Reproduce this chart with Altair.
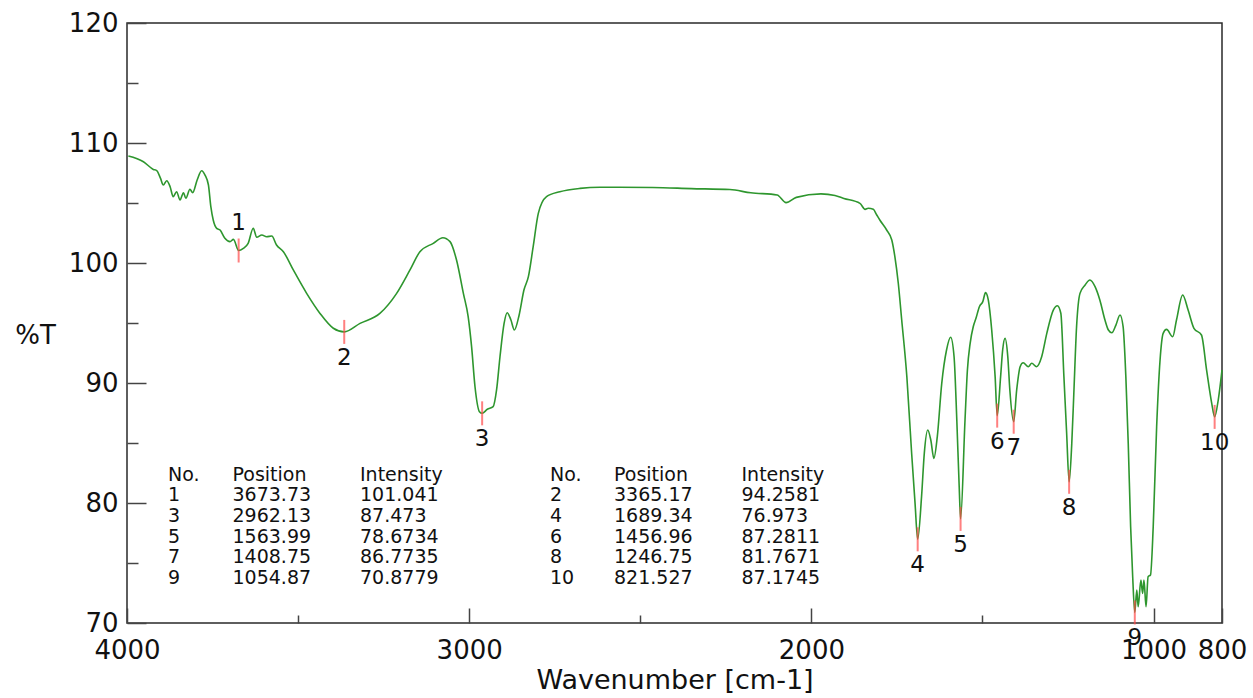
import altair as alt
import pandas as pd

# ---------------- data ----------------
# spectrum trace (wavenumber in cm-1, %T) between the labelled peaks
spec_wn = [
    3996, 3952, 3923, 3913, 3902, 3894, 3884, 3874, 3865, 3855,
    3845, 3835, 3828, 3816, 3808, 3795, 3782, 3772, 3762, 3755,
    3748, 3738, 3728, 3714, 3699, 3689, 3660, 3646, 3631,
    3621, 3606, 3592, 3577, 3563, 3543, 3514, 3475, 3436, 3397,
    3319, 3261, 3212, 3173, 3144, 3105, 3077, 3056, 3037,
    3017, 3003, 2993, 2983, 2970, 2947, 2930, 2920, 2910,
    2898, 2889, 2878, 2868, 2854, 2840, 2827, 2813, 2798, 2774,
    2735, 2676, 2618, 2464, 2351, 2238, 2177, 2100, 2074, 2044,
    1972, 1931, 1905, 1858, 1843, 1834, 1819, 1809, 1800, 1780,
    1765, 1756, 1746, 1736, 1721, 1707, 1697, 1678, 1670,
    1660, 1651, 1642, 1632, 1619, 1605, 1593, 1583, 1575, 1568,
    1551, 1544, 1536, 1527, 1519, 1509, 1499, 1491, 1483,
    1473, 1463, 1447, 1441, 1434, 1426, 1420, 1400,
    1390, 1381, 1366, 1356, 1342, 1327, 1312, 1293, 1281, 1271,
    1262, 1254, 1239, 1233, 1225, 1215, 1200, 1186, 1171,
    1157, 1142, 1132, 1122, 1110, 1098, 1089, 1081, 1074, 1067,
    1061, 1049, 1045, 1037, 1032, 1028, 1022, 1016, 1009,
    1001, 991, 981, 972, 962, 944, 933, 915, 899, 882,
    860, 845, 830, 811, 800,
]
spec_t = [
    108.92, 108.44, 107.8, 107.7, 107.05, 106.5, 106.86, 106.36, 105.53, 105.94,
    105.25, 105.86, 105.39, 106.14, 105.86, 106.92, 107.69, 107.33, 106.5, 104.69,
    103.58, 102.89, 102.75, 102.06, 101.78, 101.97, 101.22, 101.64, 102.89,
    102.14, 102.33, 102.19, 102.25, 101.5, 100.94, 99.42, 97.47, 95.8, 94.56,
    94.97, 95.8, 97.47, 99.42, 100.94, 101.64, 102.11, 101.78, 100.25,
    97.47, 95.53, 93.03, 89.69, 87.61, 87.81, 88.03, 89.42, 92.19,
    94.97, 95.86, 95.25, 94.42, 95.67, 97.75, 98.86, 101.36, 104.14, 105.53,
    105.94, 106.22, 106.31, 106.29, 106.2, 106.12, 105.85, 105.67, 105.03, 105.47,
    105.76, 105.62, 105.38, 104.97, 104.47, 104.56, 104.47, 104.0, 103.58, 102.75,
    101.92, 100.53, 98.31, 95.25, 90.53, 84.14, 79.97, 80.53, 84.14,
    86.08, 85.25, 83.72, 85.53, 89.97, 92.75, 93.81, 92.19, 86.92, 81.36,
    86.92, 91.08, 93.31, 94.69, 95.39, 96.36, 96.78, 97.53, 96.92,
    94.42, 90.53, 90.53, 92.75, 93.72, 92.19, 89.42, 89.42,
    91.36, 91.69, 91.36, 91.64, 91.36, 92.19, 94.14, 96.08, 96.44, 95.81,
    90.53, 85.81, 84.97, 89.14, 94.69, 97.47, 98.17, 98.58, 98.03,
    96.92, 95.25, 94.42, 94.19, 94.83, 95.67, 94.69, 90.53, 84.97, 78.03,
    73.86, 72.75, 71.36, 73.58, 72.47, 73.58, 71.36, 73.86, 74.0,
    78.03, 86.36, 91.92, 94.14, 94.47, 93.86, 95.25, 97.33, 96.08, 94.56,
    94.0, 91.08, 88.31, 88.58, 91.08,
]
assert len(spec_wn) == len(spec_t)

# labelled peaks (from the peak table)
peak_no = [1, 2, 3, 4, 5, 6, 7, 8, 9, 10]
peak_pos = [3673.73, 3365.17, 2962.13, 1689.34, 1563.99, 1456.96, 1408.75, 1246.75, 1054.87, 821.527]
peak_int = [101.041, 94.2581, 87.473, 76.973, 78.6734, 87.2811, 86.7735, 81.7671, 70.8779, 87.1745]

x_label_values = [4000, 3000, 2000, 1000, 800]
x_minor_values = [3500, 2500, 1500]
y_label_values = [70, 80, 90, 100, 110, 120]
y_minor_values = [75, 85, 95, 105, 115]

# ---------------- tables for the library ----------------
spec_df = pd.DataFrame({"wn": spec_wn + peak_pos, "T": spec_t + peak_int}).sort_values("wn", ascending=False)
peaks_df = pd.DataFrame({"no": peak_no, "wn": peak_pos, "T": peak_int})

def fmt(v):
    return "{:.6g}".format(v)

left = [i for i in range(0, 10, 2)]
right = [i for i in range(1, 10, 2)]
table_cols = [
    ["No."] + [str(peak_no[i]) for i in left],
    ["Position"] + [fmt(peak_pos[i]) for i in left],
    ["Intensity"] + [fmt(peak_int[i]) for i in left],
    ["No."] + [str(peak_no[i]) for i in right],
    ["Position"] + [fmt(peak_pos[i]) for i in right],
    ["Intensity"] + [fmt(peak_int[i]) for i in right],
]

# ---------------- layout / style ----------------
W, H = 1095, 600
FONT = "DejaVu Sans"
GREEN = "#2e962e"
RED = "#ff4a4a"
INK = "#111111"
TICK = "#444444"
table_x = [41, 105.5, 233, 423, 487, 614.5]
table_y_first = 451.5
table_line_h = 20.7

xscale = alt.Scale(domain=[800, 4000], reverse=True, nice=False, zero=False)
yscale = alt.Scale(domain=[70, 120], nice=False, zero=False)

x_label_axis = alt.Axis(
    orient="bottom", values=x_label_values, format="d",
    labelFont=FONT, labelFontSize=26, labelColor=INK, labelPadding=14,
    labelFlush=False, labelOverlap=False,
    ticks=False, tickSize=0, domain=False, grid=False,
    title="Wavenumber [cm-1]", titleFont=FONT, titleFontSize=27,
    titleFontWeight="normal", titleColor=INK, titleY=65, titleBaseline="alphabetic",
)
y_label_axis = alt.Axis(
    orient="left", values=y_label_values, format="d",
    labelFont=FONT, labelFontSize=26, labelColor=INK, labelPadding=9,
    labelOverlap=False,
    ticks=False, tickSize=0, domain=False, grid=False,
    title="%T", titleFont=FONT, titleFontSize=26, titleFontWeight="normal",
    titleColor=INK, titleAngle=0, titleX=-92, titleY=312,
    titleAlign="center", titleBaseline="middle",
)

def tick_axis(orient, offset, values, size):
    return alt.Axis(
        orient=orient, offset=offset, values=values, labels=False,
        domain=False, grid=False, ticks=True, tickSize=size,
        tickColor=TICK, tickWidth=1.5, title=None,
    )

line = alt.Chart(spec_df).mark_line(
    color=GREEN, strokeWidth=1.6, interpolate="monotone"
).encode(
    x=alt.X("wn:Q", scale=xscale, axis=x_label_axis),
    y=alt.Y("T:Q", scale=yscale, axis=y_label_axis),
    order=alt.Order("wn:Q", sort="descending"),
)

peak_marks = alt.Chart(peaks_df).mark_tick(
    orient="vertical", size=24, thickness=2, color=RED, opacity=0.7
).encode(
    x=alt.X("wn:Q", scale=xscale, axis=tick_axis("top", -H, x_label_values, 15)),
    y=alt.Y("T:Q", scale=yscale, axis=tick_axis("right", -W, y_label_values, 19)),
)

peak_labels = alt.Chart(peaks_df).transform_filter("datum.no != 1").mark_text(
    dy=26, font=FONT, fontSize=23, color=INK, align="center", baseline="middle"
).encode(
    x=alt.X("wn:Q", scale=xscale, axis=tick_axis("top", -H, x_minor_values, 8)),
    y=alt.Y("T:Q", scale=yscale, axis=tick_axis("right", -W, y_minor_values, 11)),
    text="no:N",
)

peak_label_up = alt.Chart(peaks_df).transform_filter("datum.no == 1").mark_text(
    dy=-28, font=FONT, fontSize=23, color=INK, align="center", baseline="middle"
).encode(
    x=alt.X("wn:Q", scale=xscale, axis=None),
    y=alt.Y("T:Q", scale=yscale, axis=None),
    text="no:N",
)

one = pd.DataFrame({"k": [0]})
table_layers = [
    alt.Chart(one).mark_text(
        font=FONT, fontSize=19, color=INK, align="left", baseline="middle",
        lineHeight=table_line_h,
    ).encode(
        x=alt.value(px), y=alt.value(table_y_first), text=alt.value(col)
    )
    for px, col in zip(table_x, table_cols)
]

chart = alt.layer(line, peak_marks, peak_labels, peak_label_up, *table_layers).resolve_axis(
    x="independent", y="independent"
).properties(
    width=W, height=H,
    autosize=alt.AutoSizeParams(type="none"),
    padding={"left": 127, "top": 23, "right": 31, "bottom": 75},
    background="white",
).configure_view(stroke="#2a2a2a", strokeWidth=1.5)

chart.save("out.html", embed_options={"renderer": "svg", "actions": False})
